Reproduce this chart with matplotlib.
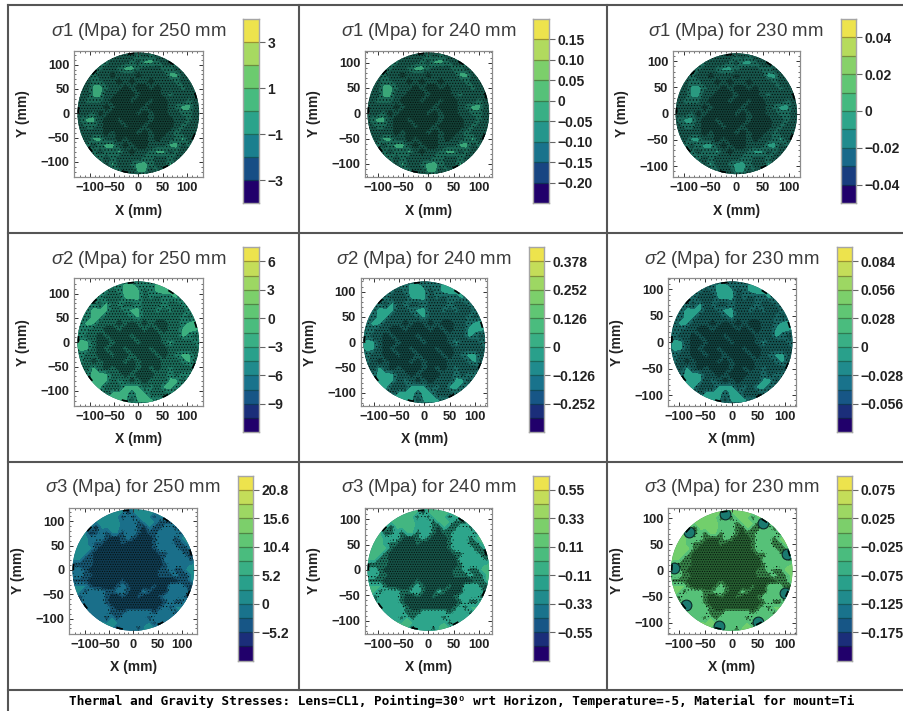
import numpy as np
import matplotlib
matplotlib.use("Agg")
import matplotlib.pyplot as plt
from matplotlib.colors import LinearSegmentedColormap
from matplotlib.patches import Circle
from matplotlib.lines import Line2D

W, H = 904, 711
plt.rcParams.update({
    "font.family": ["Liberation Sans", "DejaVu Sans"],
    "mathtext.fontset": "custom",
    "mathtext.rm": "Liberation Sans",
    "mathtext.it": "Liberation Sans:italic",
    "hatch.linewidth": 0.5,
    "hatch.color": "#050f0c",
})

# ---------- data ----------
STRESS_NAMES = ["1", "1", "1", "2", "2", "2", "3", "3", "3"]
LENS_DIAMETERS = [250, 240, 230, 250, 240, 230, 250, 240, 230]
BAND_EDGES_LOW = [-4, -0.25, -0.05, -12, -0.378, -0.084, -10.4, -0.77, -0.225]
BAND_STEPS = [1, 0.05, 0.01, 1.5, 0.063, 0.014, 2.6, 0.11, 0.025]
BAND_COUNTS = [8, 9, 10, 13, 13, 13, 13, 13, 13]
BAR_TICKS = [
    [-3, -1, 1, 3],
    [-0.20, -0.15, -0.10, -0.05, 0, 0.05, 0.10, 0.15],
    [-0.04, -0.02, 0, 0.02, 0.04],
    [-9, -6, -3, 0, 3, 6],
    [-0.252, -0.126, 0, 0.126, 0.252, 0.378],
    [-0.056, -0.028, 0, 0.028, 0.056, 0.084],
    [-5.2, 0, 5.2, 10.4, 15.6, 20.8],
    [-0.55, -0.33, -0.11, 0.11, 0.33, 0.55],
    [-0.175, -0.125, -0.075, -0.025, 0.025, 0.075],
]
BAR_LABELS = [
    ["\u22123", "\u22121", "1", "3"],
    ["\u22120.20", "\u22120.15", "\u22120.10", "\u22120.05", "0", "0.05", "0.10", "0.15"],
    ["\u22120.04", "\u22120.02", "0", "0.02", "0.04"],
    ["\u22129", "\u22126", "\u22123", "0", "3", "6"],
    ["\u22120.252", "\u22120.126", "0", "0.126", "0.252", "0.378"],
    ["\u22120.056", "\u22120.028", "0", "0.028", "0.056", "0.084"],
    ["\u22125.2", "0", "5.2", "10.4", "15.6", "20.8"],
    ["\u22120.55", "\u22120.33", "\u22120.11", "0.11", "0.33", "0.55"],
    ["\u22120.175", "\u22120.125", "\u22120.075", "\u22120.025", "0.025", "0.075"],
]
MOUNT_ANGLES = [97, 57, 17, -23, -63, -103, -143, 177, 137]
FOOTER = ("Thermal and Gravity Stresses: Lens=CL1, Pointing=30\u1d3c wrt Horizon, "
          "Temperature=-5, Material for mount=Ti")

# Contour-line density read cell by cell over each disc, top row first
# (0,1 = clean bands; 2,3,4 = increasingly dense contour lines).
SIGMA1_CELLS = [
    "333333333333333333333",
    "333333333323233333333",
    "333332333231123323333",
    "333323321123332233333",
    "333233433343333113333",
    "333223343433433323333",
    "333112334344343332333",
    "333113344434443233333",
    "332223444344344333233",
    "333334344443444321133",
    "333243444434344332233",
    "321134434444344433233",
    "332234443443444432333",
    "333334344434344323333",
    "333113343444343321333",
    "332321134344333113233",
    "333232213433211323333",
    "333323233332233233333",
    "333223133211233133333",
    "333333323311323333333",
    "333333333333333333333",
]
SIGMA2_CELLS = [
    "333333333333333333333",
    "222222221122211222222",
    "222222321113211122222",
    "222223331113232213222",
    "222231323323332332222",
    "222111332113323233222",
    "222113333213333332322",
    "221133343434344332112",
    "222334434443434331112",
    "223343444344443331232",
    "211344344434443133322",
    "211343443444344333332",
    "223344344344434321133",
    "223434443434443332133",
    "233134344434343233322",
    "222111334344433232222",
    "222111323434333113222",
    "212113331113231122222",
    "221223111211333222222",
    "222221111311122222222",
    "222222222222222222222",
]
SIGMA3_CELLS = [
    "0000000000000000000000000",
    "0000000000040000000000000",
    "0000000000313000300000000",
    "0000000000111300033300000",
    "0000040000111340331130000",
    "0000431300311343311113000",
    "0000111344313444311130000",
    "0000133444344444311133000",
    "0000034444444444311113300",
    "0000344444444444433111340",
    "0003344444444444441111130",
    "0333344444444444443111100",
    "3113444444444444433133000",
    "3113344444444444433313300",
    "0333444444344444444443300",
    "0000344443134444344111340",
    "0003111331134413444111140",
    "0031111344344344431111340",
    "0031111344444444443133000",
    "0041111134444444431300000",
    "0004111133311111311130000",
    "0000111303111113111113000",
    "0000000000111110311130000",
    "0000000004111300043000000",
    "0000000000000000000000000",
]
PANEL_CELLS = [SIGMA1_CELLS] * 3 + [SIGMA2_CELLS] * 3 + [SIGMA3_CELLS] * 3

# colours of cell levels 0-4 per panel
PANEL_COLORS = [
    ["#3aa678", "#3aa678", "#1c6a58", "#17564a", "#123f35"],
    ["#3aa678", "#3aa678", "#1c6a58", "#17564a", "#123f35"],
    ["#2a9a80", "#2a9a80", "#1c6a5c", "#17564c", "#123f38"],
    ["#3db07f", "#3db07f", "#1e7c66", "#1a6a58", "#144e42"],
    ["#2aa48a", "#2aa48a", "#1b6c66", "#175a56", "#114340"],
    ["#28a08a", "#28a08a", "#196664", "#155654", "#10403e"],
    ["#1e8a8c", "#1a6f8a", "#1a6f8a", "#165470", "#0f3a50"],
    ["#43b681", "#2da58b", "#2da58b", "#1c6f5c", "#155146"],
    ["#72cf6c", "#56c178", "#56c178", "#367f46", "#265e30"],
]
PANEL_RING_COLORS = [None, None, None, None, None, None, None, None, "#1a7a70"]

# ---------- layout in reference pixels ----------
FRAMES = [(74.3, 202.7, 50.7, 177.3), (365.3, 491.7, 50.7, 177.3), (673, 799.7, 50.7, 177.3),
          (74.3, 202.7, 278.3, 406), (360.7, 487.3, 278.3, 406), (668.3, 795.7, 278.3, 406),
          (69.3, 197, 507.7, 633.7), (365.3, 491.7, 507.7, 633.7), (668.3, 795.7, 507.7, 633.7)]
CENTERS = [(138.3, 113.3), (428.3, 113.3), (736.3, 113.3),
           (138.3, 342.3), (424.3, 342.3), (731.7, 342.3),
           (133.3, 570), (428.3, 570), (731.7, 570)]
BARS = [(243, 259, 19, 203), (533.3, 549, 19, 203), (841, 856, 19, 203),
        (243, 258.7, 247, 432.3), (529.3, 544.3, 247, 432.3), (836.7, 852.3, 247, 432.3),
        (237.7, 253.3, 475.7, 660.7), (533.3, 548.7, 475.7, 660.7), (836.7, 852.3, 475.7, 660.7)]
TITLES = [(138.3, 31.7), (428.7, 31.7), (736, 31.7),
          (138.3, 260), (424, 260), (732, 260),
          (133, 488), (428.7, 488), (732, 488)]
DISC_PX = 60.8

CMAP = LinearSegmentedColormap.from_list("bands", [
    "#21006b", "#174f85", "#1a7f8e", "#2ba38b", "#47bb7f", "#6ccb6f", "#a6d961", "#ede34d"])

fig = plt.figure(figsize=(W / 100, H / 100), dpi=100, facecolor="white")


def add_axes_px(x0, x1, y0, y1):
    return fig.add_axes([x0 / W, 1 - y1 / H, (x1 - x0) / W, (y1 - y0) / H])


for k in range(9):
    frame, centre, bar = FRAMES[k], CENTERS[k], BARS[k]
    radius = LENS_DIAMETERS[k] / 2
    scale = DISC_PX / radius

    ax = add_axes_px(*frame)
    ax.set_xlim((frame[0] - centre[0]) / scale, (frame[1] - centre[0]) / scale)
    ax.set_ylim((centre[1] - frame[3]) / scale, (centre[1] - frame[2]) / scale)

    cells = np.array([[int(c) for c in row] for row in PANEL_CELLS[k]], dtype=float)[::-1]
    n = cells.shape[0]
    axis = np.linspace(-1.05 * radius, 1.05 * radius, n)
    disc = Circle((0, 0), radius, transform=ax.transData, facecolor=PANEL_COLORS[k][3], edgecolor="none")
    ax.add_patch(disc)
    cs = ax.contourf(axis, axis, cells, levels=[-0.5, 0.5, 1.5, 2.5, 3.5, 4.5],
                     colors=PANEL_COLORS[k],
                     hatches=[None, None, ".....", "......", "......."])
    cs.set_clip_path(disc)

    # dark rim pads at the mount points
    for ang in MOUNT_ANGLES:
        theta = np.deg2rad(np.linspace(ang - 3, ang + 3, 12))
        rim, = ax.plot(radius * np.cos(theta), radius * np.sin(theta), color="black",
                       lw=2.4, solid_capstyle="butt")
        rim.set_clip_path(disc)
        if PANEL_RING_COLORS[k]:
            pad = ax.scatter(radius * 0.95 * np.cos(np.deg2rad(ang)),
                             radius * 0.95 * np.sin(np.deg2rad(ang)),
                             s=60, facecolor=PANEL_RING_COLORS[k], edgecolor="#0b2a28", lw=0.8)
            pad.set_clip_path(disc)

    ax.set_xticks([-100, -50, 0, 50, 100])
    ax.set_yticks([-100, -50, 0, 50, 100])
    ax.set_xticks(np.arange(-120, 121, 10), minor=True)
    ax.set_yticks(np.arange(-120, 121, 10), minor=True)
    ax.tick_params(which="major", direction="in", top=True, right=True, length=3, width=0.7,
                   color="#333333", labelsize=9.3, pad=3.5)
    ax.tick_params(which="minor", direction="in", top=True, right=True, length=1.5, width=0.5,
                   color="#333333")
    for lab in ax.get_xticklabels() + ax.get_yticklabels():
        lab.set_fontweight("bold")
        lab.set_color("#222222")
    for sp in ax.spines.values():
        sp.set_color("#8c8c8c")
        sp.set_linewidth(0.9)

    fig.text(TITLES[k][0] / W, 1 - TITLES[k][1] / H,
             f"$\\sigma${STRESS_NAMES[k]} (Mpa) for {LENS_DIAMETERS[k]} mm",
             ha="center", va="center", fontsize=13.4, color="#3c3c3c")
    fig.text(centre[0] / W, 1 - (frame[3] + 33.4) / H, "X (mm)", ha="center", va="center",
             fontsize=10, fontweight="bold", color="#222222")
    fig.text((frame[0] - 51) / W, 1 - (frame[2] + frame[3]) / 2 / H, "Y (mm)", ha="center", va="center",
             rotation=90, fontsize=10, fontweight="bold", color="#222222")

    cax = add_axes_px(*bar)
    nb = BAND_COUNTS[k]
    low, step = BAND_EDGES_LOW[k], BAND_STEPS[k]
    for b in range(nb):
        cax.bar(0, step, bottom=low + b * step, width=1, align="edge",
                color=CMAP(b / (nb - 1)), edgecolor="none")
        if b:
            cax.axhline(low + b * step, color=tuple(0.65 * c for c in CMAP(b / (nb - 1))[:3]), lw=0.9)
    cax.set_xlim(0, 1)
    cax.set_ylim(low, low + nb * step)
    cax.set_xticks([])
    cax.yaxis.tick_right()
    cax.set_yticks(BAR_TICKS[k])
    cax.set_yticklabels(BAR_LABELS[k], fontsize=10, fontweight="bold", color="#222222")
    cax.tick_params(axis="y", direction="out", length=4.5, width=0.8, color="#666666", pad=1.5)
    for sp in cax.spines.values():
        sp.set_color("#a5a5a5")
        sp.set_linewidth(1.0)

# table rules
RULE_ROWS = [4.5, 232.5, 461.5, 690]
RULE_COLS = [8, 298.5, 606.7]
for y in RULE_ROWS:
    fig.add_artist(Line2D([8 / W, 1], [1 - y / H] * 2, color="#555555", lw=1.5))
fig.add_artist(Line2D([8 / W] * 2, [1 - 4.5 / H, 0], color="#555555", lw=1.5))
for x in RULE_COLS[1:]:
    fig.add_artist(Line2D([x / W] * 2, [1 - 4.5 / H, 1 - 690 / H], color="#555555", lw=1.5))

fig.text(461.5 / W, 1 - 701 / H, FOOTER, ha="center", va="center", fontsize=9.2,
         fontweight="bold", family=["DejaVu Sans Mono", "DejaVu Sans"], color="black")

fig.savefig("out.png", dpi=100, facecolor="white")
